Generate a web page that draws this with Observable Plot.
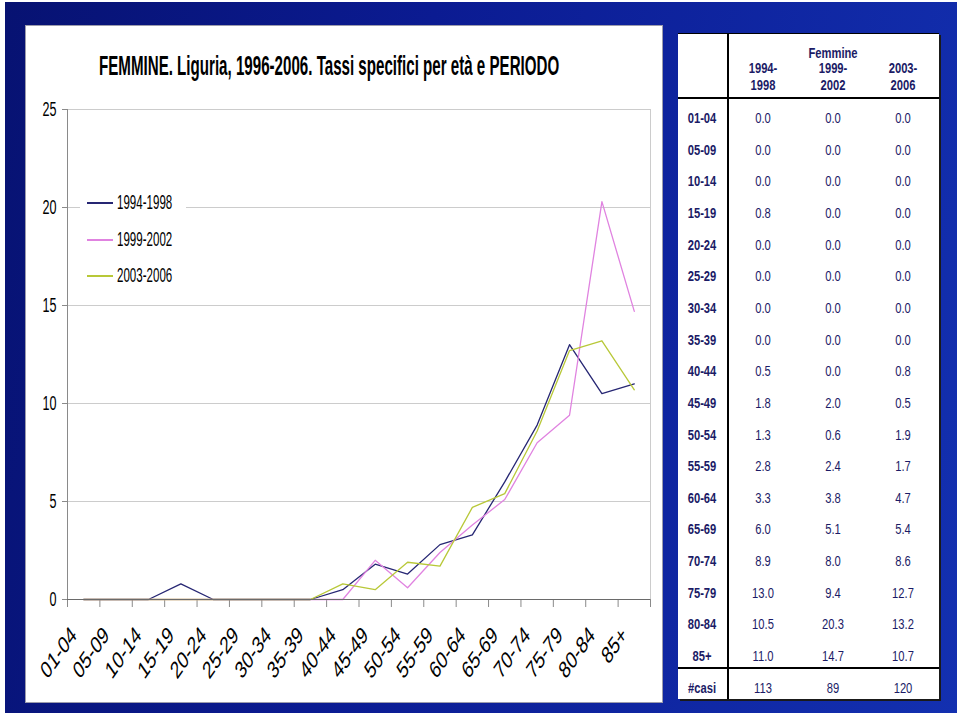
<!DOCTYPE html>
<html><head><meta charset="utf-8">
<script src="https://cdn.jsdelivr.net/npm/d3@7"></script>
<script src="https://cdn.jsdelivr.net/npm/@observablehq/plot@0.6"></script>
<style>
body{margin:0;width:960px;height:716px;background:#fff;position:relative;overflow:hidden;font-family:"Liberation Sans",Arial,sans-serif}
#bg{position:absolute;left:5px;top:2px;width:952px;height:711px;background:linear-gradient(100deg,#071272 0%,#0b1b92 40%,#1330b0 100%)}
#panel{position:absolute;left:26px;top:26px;width:636px;height:676px;background:#fff;outline:1px solid #9c9cac}
#panel svg{position:absolute;left:0;top:0}
#title{position:absolute;left:73px;top:27px;font:bold 27px/27px "Liberation Sans",Arial,sans-serif;white-space:nowrap;transform:scaleX(0.56);transform-origin:0 0;color:#000}
#legend{position:absolute;left:54px;top:160px;width:106px;height:104px;background:#fff}
.li{position:absolute;left:0;height:22px;width:106px}
.li .sw{position:absolute;left:7px;top:11px;width:26px;height:1.5px}
.li .tx{position:absolute;left:37px;top:0;font:21px/22px "Liberation Sans",Arial,sans-serif;white-space:nowrap;transform:scaleX(0.55);transform-origin:0 50%;color:#000}
#tbl{position:absolute;left:678px;top:33px;width:261px;height:665px;background:#fff;border-top:1px solid #000;box-shadow:2px 2px 0 #1a1a1a}
#tbl .c{position:absolute;width:100px;text-align:center;line-height:16px;font-size:14px;color:#1b1b66;white-space:nowrap;transform:scaleX(0.8)}
#tbl .b{font-weight:bold}
#tbl .ln{position:absolute;background:#000}
</style></head>
<body>
<div id="bg"></div>
<div id="panel">
  <div id="title">FEMMINE. Liguria, 1996-2006. Tassi specifici per età e PERIODO</div>
</div>
<div id="tbl"></div>
<script>
const ages = ["01-04","05-09","10-14","15-19","20-24","25-29","30-34","35-39","40-44","45-49","50-54","55-59","60-64","65-69","70-74","75-79","80-84","85+"];
const periods = ["1994-1998","1999-2002","2003-2006"];
const p1994 = [0.0,0.0,0.0,0.8,0.0,0.0,0.0,0.0,0.5,1.8,1.3,2.8,3.3,6.0,8.9,13.0,10.5,11.0];
const p1999 = [0.0,0.0,0.0,0.0,0.0,0.0,0.0,0.0,0.0,2.0,0.6,2.4,3.8,5.1,8.0,9.4,20.3,14.7];
const p2003 = [0.0,0.0,0.0,0.0,0.0,0.0,0.0,0.0,0.8,0.5,1.9,1.7,4.7,5.4,8.6,12.7,13.2,10.7];
const casi = [113, 89, 120];
const yTicks = [0, 5, 10, 15, 20, 25];
const colors = ["#262673", "#e083e0", "#b8c838"];
const tableTitle = "Femmine";

const series = [p1994, p1999, p2003];
const rows = [];
series.forEach((arr, k) => arr.forEach((v, i) => rows.push({period: periods[k], age: ages[i], i, v})));
const ageIdx = ages.map((a, i) => ({a, i}));

const chart = Plot.plot({
  width: 636, height: 676,
  marginLeft: 41, marginRight: 12, marginTop: 83, marginBottom: 103,
  style: {background: "transparent", fontFamily: "'Liberation Sans', Arial, sans-serif", overflow: "visible"},
  x: {type: "linear", domain: [0, ages.length]},
  y: {domain: [0, 25]},
  color: {domain: periods, range: colors},
  marks: [
    Plot.gridY(yTicks.filter(d => d > 0), {stroke: "#cccccc", strokeOpacity: 1}),
    Plot.ruleX([ages.length], {stroke: "#cccccc"}),
    Plot.ruleX([0], {stroke: "#8a8a8a"}),
    Plot.axisY(yTicks, {tickSize: 5, tickPadding: 6, fontSize: 21, stroke: "#8a8a8a", fill: "#000", label: null}),
    Plot.axisX(d3.range(ages.length + 1), {tickSize: 8, tickFormat: () => "", label: null, stroke: "#8a8a8a"}),
    Plot.lineY(rows, {x: d => d.i + 0.5, y: "v", z: "period", stroke: "period", strokeWidth: 1.3}),
    Plot.ruleY([0], {stroke: "#6a6a6a"}),
    Plot.text(ageIdx, {x: d => d.i + 0.5, y: () => 0, text: "a", rotate: -45, textAnchor: "end", dx: -6, dy: 37, fontSize: 24, fill: "#000"})
  ]
});

// condense the chart's texts horizontally as in the reference
d3.select(chart).selectAll('g[aria-label="y-axis tick label"] text')
  .attr("transform", function() { return (this.getAttribute("transform") || "") + " scale(0.6,1)"; });
const ageSet = new Set(ages);
d3.select(chart).selectAll("text").filter(function() { return ageSet.has(this.textContent); })
  .each(function() {
    const t = this.getAttribute("transform") || "";
    const m = t.match(/translate\(\s*([-\d.e]+)[ ,]+([-\d.e]+)\s*\)/);
    const X = (m ? +m[1] : 0) + (+this.getAttribute("x") || 0);
    const Y = (m ? +m[2] : 0) + (+this.getAttribute("y") || 0);
    this.removeAttribute("x"); this.removeAttribute("y");
    this.setAttribute("transform", `translate(${X},${Y}) scale(0.7,1) rotate(-45)`);
  });

const panel = document.getElementById("panel");
panel.insertBefore(chart, panel.firstChild);

// legend
const legend = document.createElement("div");
legend.id = "legend";
periods.forEach((p, k) => {
  const it = document.createElement("div");
  it.className = "li";
  it.style.top = Math.round(5 + k * 36.5) + "px";
  it.innerHTML = `<div class="sw" style="background:${colors[k]}"></div><div class="tx">${p}</div>`;
  legend.appendChild(it);
});
panel.appendChild(legend);

// table
const tbl = document.getElementById("tbl");
function cell(txt, cx, cy, bold) {
  const d = document.createElement("div");
  d.className = "c" + (bold ? " b" : "");
  d.style.left = (cx - 50) + "px";
  d.style.top = (cy - 8) + "px";
  d.textContent = txt;
  tbl.appendChild(d);
}
function line(x, y, w, h) {
  const d = document.createElement("div");
  d.className = "ln";
  Object.assign(d.style, {left: x + "px", top: y + "px", width: w + "px", height: h + "px"});
  tbl.appendChild(d);
}
const colX = [85, 155, 225];
cell(tableTitle, 155, 19, true);
periods.forEach((p, k) => {
  const [a, b] = p.split("-");
  cell(a + "-", colX[k], 34, true);
  cell(b, colX[k], 51, true);
});
ages.forEach((a, i) => {
  const cy = 84 + i * 31.65;
  cell(a, 24, cy, true);
  series.forEach((arr, k) => cell(arr[i].toFixed(1), colX[k], cy, false));
});
cell("#casi", 24, 654, true);
casi.forEach((c, k) => cell(String(c), colX[k], 654, false));
line(49, 0, 2, 665);
line(0, 63, 261, 2);
line(0, 633, 261, 1.5);
</script>
</body></html>
